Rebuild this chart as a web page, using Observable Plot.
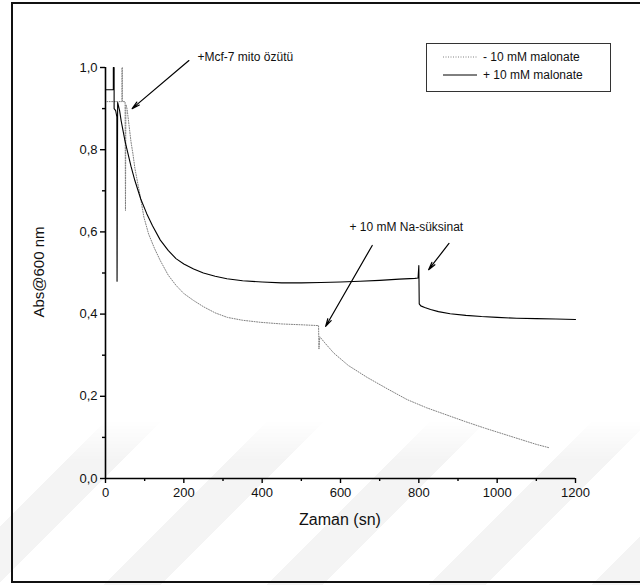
<!DOCTYPE html>
<html>
<head>
<meta charset="utf-8">
<script src="https://cdn.jsdelivr.net/npm/d3@7"></script>
<script src="https://cdn.jsdelivr.net/npm/@observablehq/plot@0.6"></script>
<style>
  body { margin: 0; background: #fff; font-family: "Liberation Sans", Arial, sans-serif; color: #111; }
  #wrap { position: relative; width: 640px; height: 585px; overflow: hidden; background: #fff; }
  #bands { position: absolute; left: 0; top: 420px; width: 640px; height: 165px;
    background: repeating-linear-gradient(135deg, transparent 0px, transparent 75px, #f4f4f4 75px, #f4f4f4 115px);
    -webkit-mask-image: linear-gradient(to bottom, transparent 0%, #000 25%);
    mask-image: linear-gradient(to bottom, transparent 0%, #000 25%); }
  #frame { position: absolute; left: 11px; top: 2px; width: 640px; height: 581px; border: 2px solid #111; box-sizing: border-box; }
  #chart { position: absolute; left: 0; top: 0; }
  .xtitle { position: absolute; left: 0; width: 680px; top: 511px; text-align: center; font-size: 16px; }
  .ytitle { position: absolute; left: 38px; top: 272px; font-size: 15px; white-space: nowrap; transform: translate(-50%, -50%) rotate(-90deg); }
  #legend { position: absolute; left: 426px; top: 43px; width: 185px; height: 49px; border: 1px solid #333; box-sizing: border-box; font-size: 12px; background: #fff; }
  #legend .row { position: absolute; left: 16px; height: 16px; display: flex; align-items: center; }
  #legend svg { margin-right: 6px; }
</style>
</head>
<body>
<div id="wrap">
  <div id="bands"></div>
  <div id="frame"></div>
  <div id="chart"></div>
  <div class="xtitle">Zaman (sn)</div>
  <div class="ytitle">Abs@600 nm</div>
  <div id="legend"></div>
</div>
<script>
// Absorbance at 600 nm over time, with and without 10 mM malonate
const seriesNames = ["- 10 mM malonate", "+ 10 mM malonate"];

// - 10 mM malonate (dotted trace)
const minusT = [3, 42, 42, 43, 43, 50, 51, 52, 55, 60, 65, 70, 75, 81, 90, 98, 110, 125, 140, 160, 180, 200, 225, 250, 280, 311, 350, 396, 450, 500, 544, 545, 547, 560, 583, 620, 668, 720, 770, 820, 870, 920, 970, 1020, 1070, 1100, 1132];
const minusV = [0.917, 0.917, 1.0, 1.0, 0.917, 0.917, 0.652, 0.91, 0.90, 0.86, 0.82, 0.79, 0.755, 0.725, 0.68, 0.636, 0.595, 0.56, 0.53, 0.495, 0.47, 0.45, 0.433, 0.418, 0.403, 0.392, 0.385, 0.38, 0.376, 0.374, 0.372, 0.315, 0.345, 0.33, 0.305, 0.275, 0.246, 0.218, 0.192, 0.172, 0.155, 0.138, 0.122, 0.107, 0.092, 0.083, 0.075];

// + 10 mM malonate (solid trace)
const plusT = [0, 20, 20, 22, 22, 26, 29, 29.5, 31, 36, 40, 45, 50, 55, 65, 75, 90, 105, 120, 140, 160, 180, 200, 225, 250, 280, 310, 350, 400, 450, 500, 550, 600, 650, 700, 750, 790, 798, 800, 801, 805, 815, 830, 850, 880, 920, 960, 1000, 1050, 1100, 1150, 1200];
const plusV = [0.946, 0.946, 1.0, 1.0, 0.90, 0.895, 0.88, 0.48, 0.915, 0.895, 0.87, 0.845, 0.82, 0.80, 0.76, 0.725, 0.68, 0.645, 0.615, 0.58, 0.555, 0.535, 0.522, 0.51, 0.50, 0.492, 0.486, 0.481, 0.478, 0.476, 0.476, 0.477, 0.478, 0.48, 0.482, 0.485, 0.487, 0.488, 0.518, 0.425, 0.42, 0.416, 0.411, 0.406, 0.401, 0.397, 0.394, 0.392, 0.39, 0.389, 0.388, 0.387];

// Axis ticks
const xMajor = [0, 200, 400, 600, 800, 1000, 1200];
const xMinor = [100, 300, 500, 700, 900, 1100];
const yMajor = [0, 0.2, 0.4, 0.6, 0.8, 1.0];
const yMinor = [0.1, 0.3, 0.5, 0.7, 0.9];

// Annotations: label text and its position, arrows from tail to head
const noteText = ["+Mcf-7 mito özütü", "+ 10 mM Na-süksinat"];
const noteT = [357, 768];
const noteV = [1.024, 0.611];
const arrowT1 = [213, 681, 877];
const arrowV1 = [1.017, 0.567, 0.572];
const arrowT2 = [68, 562, 825];
const arrowV2 = [0.90, 0.37, 0.508];

const minus = minusT.map((t, i) => ({t, v: minusV[i]}));
const plus = plusT.map((t, i) => ({t, v: plusV[i]}));
const notes = noteText.map((text, i) => ({text, t: noteT[i], v: noteV[i]}));
const arrows = arrowT1.map((t1, i) => ({t1, v1: arrowV1[i], t2: arrowT2[i], v2: arrowV2[i]}));

const fmtY = d => d.toFixed(1).replace(".", ",");

const chart = Plot.plot({
  width: 640,
  height: 585,
  marginLeft: 105,
  marginRight: 65,
  marginTop: 67,
  marginBottom: 107,
  style: { fontFamily: "'Liberation Sans', Arial, sans-serif", fontSize: "13px", color: "#000", background: "transparent" },
  x: { domain: [0, 1200] },
  y: { domain: [0, 1] },
  marks: [
    Plot.axisX({ ticks: xMajor, tickSize: 5, tickPadding: 4, tickFormat: d => String(d), label: null, fontSize: 13, stroke: "#000", strokeWidth: 1.4, fill: "#111" }),
    Plot.axisX({ ticks: xMinor, tickSize: 3, tickFormat: () => "", label: null, stroke: "#000", strokeWidth: 1.4 }),
    Plot.axisY({ ticks: yMajor, tickSize: 5, tickPadding: 3, tickFormat: fmtY, label: null, fontSize: 13, stroke: "#000", strokeWidth: 1.4, fill: "#111" }),
    Plot.axisY({ ticks: yMinor, tickSize: 3, tickFormat: () => "", label: null, stroke: "#000", strokeWidth: 1.4 }),
    Plot.ruleY([0], { stroke: "#000", strokeWidth: 1.6 }),
    Plot.ruleX([0], { stroke: "#000", strokeWidth: 1.6 }),
    Plot.line(minus, { x: "t", y: "v", stroke: "#808080", strokeWidth: 1, strokeDasharray: "1,1.5" }),
    Plot.line(plus, { x: "t", y: "v", stroke: "#000", strokeWidth: 1.1 }),
    Plot.arrow(arrows, { x1: "t1", y1: "v1", x2: "t2", y2: "v2", stroke: "#000", strokeWidth: 1.2, headLength: 10, headAngle: 28 }),
    Plot.text(notes, { x: "t", y: "v", text: "text", fontSize: 12, fill: "#111" })
  ]
});
document.getElementById("chart").append(chart);

// Legend box
const legend = d3.select("#legend");
seriesNames.forEach((name, i) => {
  const row = legend.append("div").attr("class", "row").style("top", `${5 + i * 18}px`);
  const s = row.append("svg").attr("width", 34).attr("height", 4);
  s.append("line").attr("x1", 0).attr("x2", 34).attr("y1", 2).attr("y2", 2)
    .attr("stroke", i === 0 ? "#808080" : "#000")
    .attr("stroke-width", 1)
    .attr("stroke-dasharray", i === 0 ? "1,1.5" : null);
  row.append("span").text(name);
});
</script>
</body>
</html>
